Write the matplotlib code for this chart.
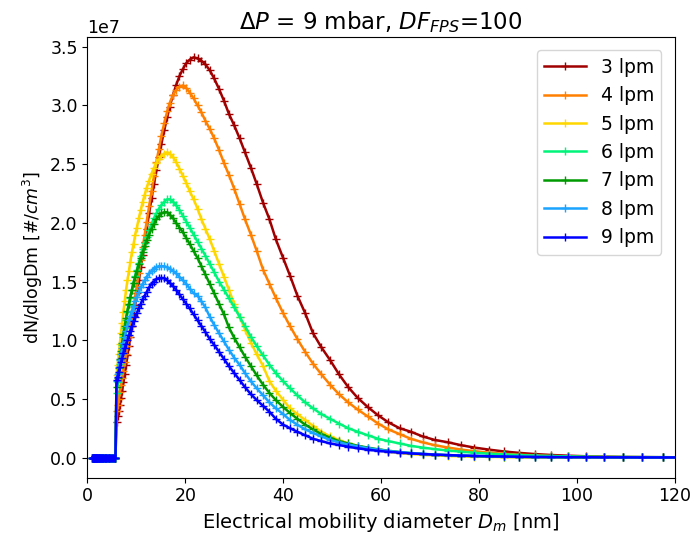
import matplotlib
matplotlib.use("Agg")
import matplotlib.pyplot as plt
import numpy as np

# Electrical mobility diameter bins [nm]
diam = [1.00, 1.04, 1.07, 1.11, 1.15, 1.20, 1.24, 1.29, 1.33, 1.38,
        1.43, 1.48, 1.54, 1.60, 1.65, 1.71, 1.78, 1.84, 1.91, 1.98,
        2.05, 2.12, 2.20, 2.28, 2.36, 2.45, 2.54, 2.63, 2.72, 2.82,
        2.92, 3.03, 3.14, 3.25, 3.37, 3.49, 3.62, 3.75, 3.88, 4.02,
        4.17, 4.32, 4.47, 4.64, 4.80, 4.97, 5.15, 5.34, 5.53, 5.73,
        5.94, 6.15, 6.38, 6.61, 6.85, 7.09, 7.34, 7.61, 7.89, 8.17,
        8.47, 8.77, 9.09, 9.42, 9.76, 10.1, 10.5, 10.9, 11.3, 11.7,
        12.1, 12.6, 13.1, 13.6, 14.1, 14.6, 15.1, 15.7, 16.3, 16.8,
        17.5, 18.1, 18.8, 19.5, 20.2, 20.9, 21.7, 22.5, 23.3, 24.1,
        25.0, 25.9, 26.9, 27.9, 28.9, 30.0, 31.1, 32.2, 33.4, 34.6,
        35.9, 37.2, 38.5, 40.0, 41.4, 42.9, 44.5, 46.1, 47.8, 49.6,
        51.4, 53.3, 55.2, 57.3, 59.4, 61.5, 63.8, 66.1, 68.5, 71.0,
        73.7, 76.4, 79.1, 82.0, 85.1, 88.2, 91.4, 94.7, 98.2, 101.8,
        105.5, 109.4, 113.4, 117.6, 121.9]

n_zero = 50  # bins below the lower size cut-off (all zero counts)

# dN/dlogDm in units of 1e6 #/cm3, from 5.94 nm upward
lpm3 = [3.0, 3.5, 4.0, 4.5, 5.1, 5.7, 6.4, 7.1, 7.9, 8.7,
        9.5, 10.3, 11.2, 12.1, 13.0, 14.0, 15.1, 16.2, 17.3, 18.4,
        19.5, 20.8, 22.1, 23.3, 24.5, 25.6, 26.7, 27.9, 29.0, 29.9,
        30.9, 31.7, 32.5, 33.1, 33.6, 33.9, 34.1, 34.0, 33.8, 33.5,
        33.0, 32.3, 31.4, 30.4, 29.3, 28.3, 27.2, 26.0, 24.7, 23.3,
        21.7, 20.3, 18.6, 17.0, 15.5, 13.8, 12.3, 10.6, 9.4, 8.3,
        7.1, 6.0, 5.1, 4.3, 3.6, 3.0, 2.5, 2.2, 1.8, 1.5,
        1.3, 1.05, 0.85, 0.68, 0.52, 0.40, 0.30, 0.22, 0.16, 0.11,
        0.08, 0.05, 0.04, 0.03, 0.02]
lpm4 = [4.0, 4.5, 5.0, 5.6, 6.2, 6.8, 7.4, 8.1, 8.8, 9.5,
        10.3, 11.1, 11.9, 12.8, 13.7, 14.6, 15.7, 16.8, 17.9, 19.0,
        20.1, 21.4, 22.7, 24.0, 25.2, 26.3, 27.4, 28.5, 29.5, 30.2,
        30.9, 31.3, 31.6, 31.7, 31.5, 31.1, 30.6, 30.0, 29.4, 28.7,
        28.0, 27.2, 26.2, 25.1, 24.1, 22.9, 21.6, 20.3, 19.0, 17.6,
        16.0, 14.8, 13.6, 12.3, 11.2, 10.1, 9.0, 8.0, 7.1, 6.2,
        5.4, 4.7, 4.1, 3.5, 2.9, 2.4, 2.0, 1.6, 1.3, 1.05,
        0.85, 0.68, 0.54, 0.42, 0.32, 0.24, 0.18, 0.13, 0.10, 0.07,
        0.05, 0.04, 0.03, 0.02, 0.02]
lpm5 = [7.0, 7.9, 8.8, 9.7, 10.6, 11.5, 12.4, 13.3, 14.3, 15.1,
        15.9, 16.7, 17.5, 18.2, 19.0, 19.6, 20.4, 21.1, 21.8, 22.4,
        23.0, 23.6, 24.2, 24.7, 25.1, 25.4, 25.7, 25.9, 26.0, 25.9,
        25.6, 25.2, 24.6, 24.0, 23.4, 22.7, 22.0, 21.2, 20.3, 19.5,
        18.6, 17.6, 16.5, 15.4, 14.3, 13.1, 12.0, 10.9, 9.8, 8.8,
        7.8, 6.5, 5.7, 4.9, 4.2, 3.7, 3.2, 2.7, 2.2, 1.8,
        1.5, 1.2, 1.0, 0.8, 0.62, 0.50, 0.39, 0.30, 0.23, 0.18,
        0.14, 0.10, 0.08, 0.06, 0.04, 0.03, 0.02, 0.02, 0.01, 0.01,
        0.01, 0.01, 0.01, 0.01, 0.01]
lpm6 = [5.5, 6.4, 7.2, 8.0, 8.8, 9.6, 10.3, 11.0, 11.7, 12.4,
        13.0, 13.6, 14.3, 14.9, 15.5, 16.0, 16.6, 17.2, 17.8, 18.3,
        18.8, 19.4, 19.9, 20.4, 20.8, 21.2, 21.5, 21.8, 22.0, 22.0,
        21.8, 21.5, 21.1, 20.6, 20.1, 19.6, 19.0, 18.4, 17.8, 17.2,
        16.5, 15.8, 15.0, 14.3, 13.6, 12.8, 12.0, 11.2, 10.3, 9.5,
        8.7, 7.9, 7.2, 6.5, 5.9, 5.3, 4.7, 4.2, 3.7, 3.3,
        2.9, 2.5, 2.2, 1.9, 1.6, 1.4, 1.2, 1.0, 0.85, 0.72,
        0.60, 0.50, 0.41, 0.33, 0.27, 0.21, 0.17, 0.13, 0.10, 0.08,
        0.06, 0.05, 0.04, 0.03, 0.02]
lpm7 = [6.0, 6.8, 7.6, 8.4, 9.1, 9.8, 10.5, 11.2, 11.9, 12.5,
        13.1, 13.7, 14.3, 14.9, 15.4, 15.9, 16.5, 17.0, 17.5, 18.0,
        18.5, 19.0, 19.5, 19.9, 20.3, 20.6, 20.8, 20.9, 20.9, 20.7,
        20.4, 20.0, 19.6, 19.2, 18.7, 18.2, 17.6, 17.0, 16.3, 15.6,
        14.8, 14.0, 13.1, 12.2, 11.1, 10.2, 9.4, 8.6, 7.8, 7.0,
        6.2, 5.5, 4.9, 4.3, 3.8, 3.3, 2.8, 2.4, 2.0, 1.7,
        1.4, 1.2, 1.0, 0.85, 0.70, 0.58, 0.47, 0.38, 0.31, 0.25,
        0.20, 0.16, 0.12, 0.09, 0.07, 0.05, 0.04, 0.03, 0.02, 0.02,
        0.02, 0.01, 0.01, 0.01, 0.01]
lpm8 = [6.5, 7.1, 7.7, 8.3, 8.8, 9.3, 9.8, 10.3, 10.8, 11.2,
        11.7, 12.1, 12.5, 12.9, 13.3, 13.7, 14.1, 14.5, 14.8, 15.1,
        15.4, 15.7, 15.9, 16.1, 16.2, 16.3, 16.3, 16.3, 16.2, 16.1,
        15.9, 15.7, 15.4, 15.1, 14.8, 14.4, 14.0, 13.8, 13.3, 12.8,
        12.0, 11.3, 10.6, 9.9, 9.2, 8.5, 7.9, 7.2, 6.5, 5.9,
        5.3, 4.7, 4.2, 3.7, 3.2, 2.8, 2.4, 2.1, 1.8, 1.5,
        1.3, 1.1, 0.95, 0.80, 0.67, 0.56, 0.47, 0.39, 0.32, 0.26,
        0.21, 0.17, 0.14, 0.11, 0.09, 0.07, 0.05, 0.04, 0.03, 0.03,
        0.02, 0.02, 0.01, 0.01, 0.01]
lpm9 = [6.6, 6.9, 7.3, 7.7, 8.1, 8.5, 8.9, 9.3, 9.7, 10.0,
        10.4, 10.8, 11.2, 11.6, 12.0, 12.3, 12.7, 13.1, 13.5, 13.8,
        14.1, 14.5, 14.8, 15.0, 15.2, 15.3, 15.3, 15.3, 15.1, 14.9,
        14.6, 14.3, 13.9, 13.5, 13.1, 12.7, 12.2, 11.7, 11.2, 10.7,
        10.1, 9.6, 9.0, 8.4, 7.8, 7.2, 6.6, 6.0, 5.4, 4.9,
        4.4, 3.9, 3.3, 2.8, 2.5, 2.2, 1.9, 1.6, 1.4, 1.2,
        1.07, 0.92, 0.79, 0.67, 0.57, 0.49, 0.42, 0.35, 0.30, 0.25,
        0.21, 0.17, 0.14, 0.11, 0.09, 0.07, 0.05, 0.04, 0.03, 0.03,
        0.02, 0.02, 0.01, 0.01, 0.01]

labels = ["3 lpm", "4 lpm", "5 lpm", "6 lpm", "7 lpm", "8 lpm", "9 lpm"]
series = [lpm3, lpm4, lpm5, lpm6, lpm7, lpm8, lpm9]
colors = ["#a00000", "#ff8000", "#ffd700", "#00f47a", "#009a00", "#1aa3ff", "#0000ff"]

fig = plt.figure(figsize=(6.94, 5.33), dpi=100)
ax = fig.add_axes([0.126, 0.104, 0.846, 0.826])

x = np.array(diam)
for lab, vals, col in zip(labels, series, colors):
    y = np.concatenate([np.zeros(n_zero), np.array(vals)]) * 1e6
    ax.plot(x, y, color=col, lw=1.8, marker="+", ms=6, mew=1.0, label=lab)

ax.set_xlim(0, 120)
ax.set_xticks([0, 20, 40, 60, 80, 100, 120])
ax.set_yticks(np.arange(0, 3.51e7, 0.5e7))
ax.tick_params(labelsize=12.5)
ax.yaxis.get_offset_text().set_fontsize(12.5)
ax.set_xlabel("Electrical mobility diameter $D_m$ [nm]", fontsize=14)
ax.set_ylabel("dN/dlogDm [#/$cm^3$]", fontsize=12.5)
ax.set_title(r"$\Delta P$ = 9 mbar, $DF_{FPS}$=100", fontsize=16.5)
ax.legend(loc="upper right", fontsize=13.5, handlelength=2.2, borderaxespad=0.7)

fig.savefig("out.png", dpi=100)
